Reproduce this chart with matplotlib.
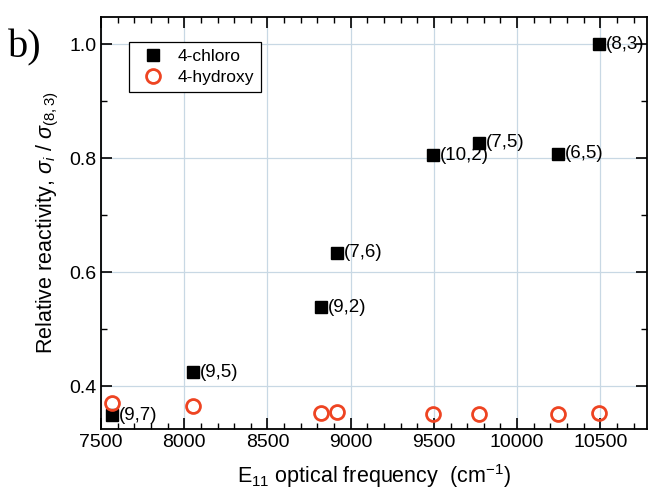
import matplotlib
matplotlib.use("Agg")
import matplotlib.pyplot as plt
from matplotlib.ticker import MultipleLocator

plt.rcParams['font.family'] = ['Liberation Sans', 'DejaVu Sans']
plt.rcParams['mathtext.fontset'] = 'custom'
plt.rcParams['mathtext.rm'] = 'Liberation Sans'
plt.rcParams['mathtext.it'] = 'Liberation Sans:italic'

# data
freq = [7564, 8053, 8822, 8920, 9495, 9771, 10244, 10494]
chloro = [0.349, 0.425, 0.539, 0.634, 0.805, 0.827, 0.808, 1.000]
hydroxy = [0.370, 0.365, 0.353, 0.355, 0.351, 0.352, 0.351, 0.353]
chirality = ["(9,7)", "(9,5)", "(9,2)", "(7,6)", "(10,2)", "(7,5)", "(6,5)", "(8,3)"]

fig = plt.figure(figsize=(6.53, 4.92), dpi=100)
ax = fig.add_axes([0.1547, 0.128, 0.836, 0.8374])

ax.plot(freq, chloro, ls='none', marker='s', ms=8.5, color='black', label='4-chloro', zorder=3)
ax.plot(freq, hydroxy, ls='none', marker='o', ms=10, mfc='none', mec='#ee4422', mew=2,
        label='4-hydroxy', zorder=3)

for x, y, lab in zip(freq, chloro, chirality):
    ax.annotate(lab, (x, y), xytext=(5, 0), textcoords='offset points',
                va='center', ha='left', fontsize=13.5)

ax.set_xlim(7500, 10780)
ax.set_ylim(0.325, 1.048)
ax.xaxis.set_major_locator(MultipleLocator(500))
ax.xaxis.set_minor_locator(MultipleLocator(100))
ax.yaxis.set_major_locator(MultipleLocator(0.2))
ax.yaxis.set_minor_locator(MultipleLocator(0.1))
ax.tick_params(which='both', direction='in', top=True, right=True, labelsize=14)
ax.tick_params(which='major', length=8, width=1.2)
ax.tick_params(which='minor', length=4, width=1.0)
ax.grid(True, which='major', color='#c8d8e4', lw=0.9)
ax.set_axisbelow(True)
for s in ax.spines.values():
    s.set_linewidth(1.3)

ax.set_xlabel(r'E$_{11}$ optical frequency  (cm$^{-1}$)', fontsize=15.5, labelpad=8)
ax.set_ylabel(r'Relative reactivity, $\sigma_i$ / $\sigma_{(8,3)}$', fontsize=15.5, labelpad=6)

leg = ax.legend(loc='upper left', bbox_to_anchor=(0.035, 0.96), fontsize=12.5,
                fancybox=False, edgecolor='black', framealpha=1, handletextpad=0.4,
                borderpad=0.4, labelspacing=0.3)
leg.get_frame().set_linewidth(0.9)

fig.text(0.012, 0.94, 'b)', family='Liberation Serif', fontsize=29, va='top')

fig.savefig('out.png', dpi=100)
